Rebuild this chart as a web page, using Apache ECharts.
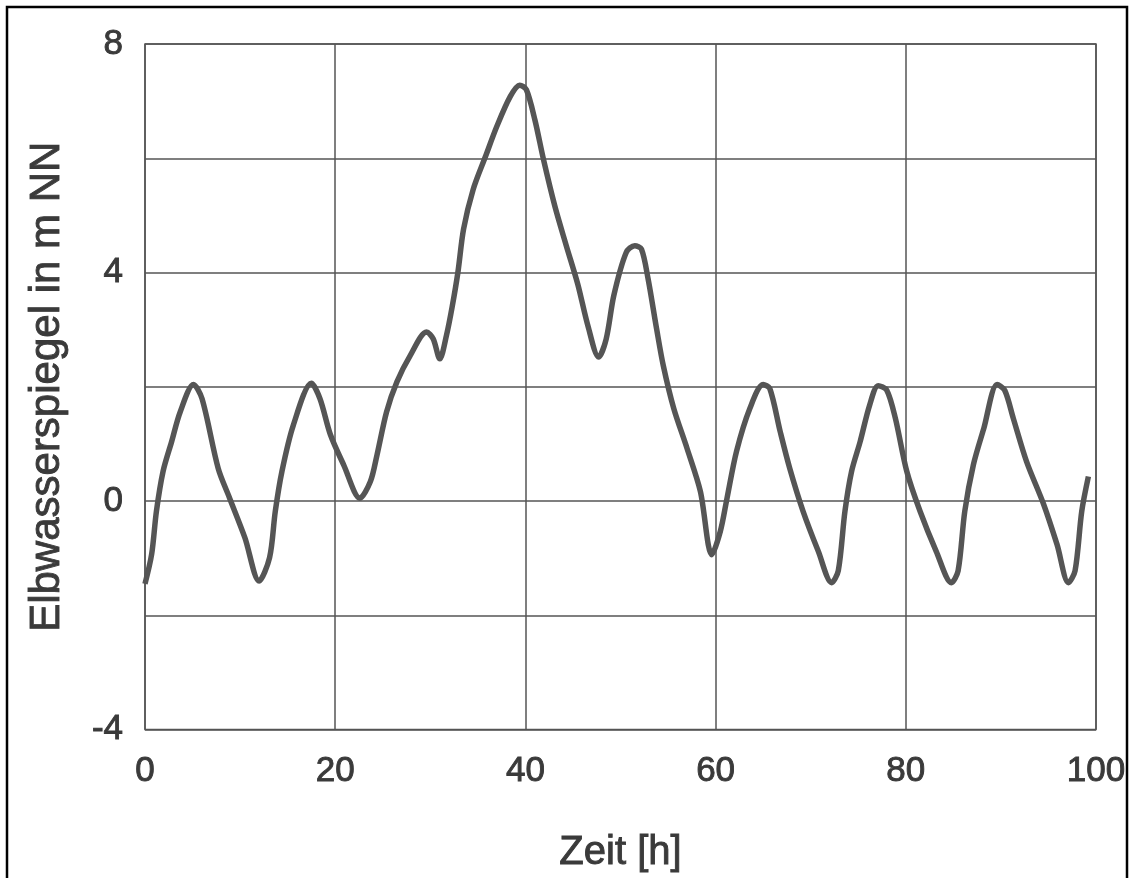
<!DOCTYPE html>
<html>
<head>
<meta charset="utf-8">
<script src="https://cdn.jsdelivr.net/npm/echarts@6/dist/echarts.min.js"></script>
<style>
html,body{margin:0;padding:0;background:#fff;}
#c{width:1133px;height:878px;}
</style>
</head>
<body>
<div id="c"></div>
<script>
const hours = [0,0.7,1.2,1.9,2.8,3.7,5.1,6.0,7.7,8.9,
  10.5,12.0,13.1,13.7,14.4,15.6,17.5,18.4,19.5,20.9,
  22.6,23.7,24.4,25.4,26.5,27.9,29.6,30.3,31.0,31.7,
  32.3,32.9,33.5,34.5,35.8,37.0,38.4,39.4,40.1,41.0,
  41.9,43.1,44.3,45.5,46.6,47.7,48.5,49.3,50.6,51.5,
  52.2,52.9,53.8,54.5,55.6,57.0,58.4,59.6,60.5,61.2,
  62.2,63.6,65.0,65.7,66.8,67.8,69.2,70.8,72.2,72.9,
  73.6,74.3,75.2,76.2,77.1,78.0,78.9,80.1,81.5,83.2,
  84.8,85.5,86.2,87.1,88.2,89.6,90.4,91.3,92.7,94.5,
  95.9,97.1,97.8,98.5,99.2];
const waterLevel = [-1.45,-0.93,-0.18,0.52,1.04,1.56,2.04,1.79,0.57,0.05,
  -0.64,-1.40,-0.99,-0.18,0.52,1.33,2.06,1.79,1.16,0.63,
  0.05,0.34,0.81,1.56,2.09,2.55,2.96,2.84,2.49,2.90,
  3.4,4.0,4.76,5.45,6.03,6.56,7.08,7.28,7.2,6.67,
  5.98,5.16,4.47,3.8,3.05,2.52,2.84,3.6,4.35,4.47,
  4.41,3.89,3.01,2.37,1.62,0.92,0.17,-0.94,-0.53,0.05,
  0.87,1.62,2.04,1.97,1.21,0.57,-0.18,-0.88,-1.43,-1.22,
  -0.18,0.52,1.04,1.68,2.02,1.94,1.45,0.52,-0.18,-0.88,
  -1.43,-1.22,-0.18,0.63,1.27,2.04,1.94,1.45,0.69,-0.06,
  -0.76,-1.43,-1.22,-0.18,0.43];
const yLabeled = [8, 4, 0, -4];
const xTitle = 'Zeit [h]';
const yTitle = 'Elbwasserspiegel in m NN';

const chart = echarts.init(document.getElementById('c'), null, {renderer:'canvas'});
const font = '"Liberation Sans", Arial, Helvetica, sans-serif';
const textColor = '#3a3a3a';
const gridColor = '#555';
const heavy = {textBorderColor:textColor, textBorderWidth:0.9};
chart.setOption({
  animation:false,
  backgroundColor:'#fff',
  graphic:[{type:'rect', shape:{x:7,y:7,width:1120,height:900}, style:{fill:null, stroke:'#000', lineWidth:2.5}, silent:true}],
  grid:{left:145, right:37, top:44, bottom:145, show:true, borderColor:gridColor, borderWidth:1.5, backgroundColor:'transparent'},
  xAxis:{type:'value', min:0, max:100, interval:20,
    name:xTitle, nameLocation:'middle', nameGap:103,
    nameTextStyle:Object.assign({fontFamily:font, fontSize:40, color:textColor}, heavy),
    axisLine:{show:false}, axisTick:{show:false},
    axisLabel:Object.assign({fontFamily:font, fontSize:35, color:textColor, margin:24}, heavy),
    splitLine:{show:true, lineStyle:{color:gridColor, width:1.5}}
  },
  yAxis:{type:'value', min:-4, max:8, interval:2,
    name:yTitle, nameLocation:'middle', nameGap:77, nameRotate:90,
    nameTextStyle:Object.assign({fontFamily:font, fontSize:42, color:textColor}, heavy),
    axisLine:{show:false}, axisTick:{show:false},
    axisLabel:Object.assign({fontFamily:font, fontSize:35, color:textColor, margin:22,
      formatter:function(v){ return yLabeled.indexOf(v) >= 0 ? String(v) : ''; }}, heavy),
    splitLine:{show:true, lineStyle:{color:gridColor, width:1.5}}
  },
  series:[{type:'line', data:hours.map((h,i)=>[h, waterLevel[i]]), smooth:0.3, showSymbol:false,
    lineStyle:{color:'#555', width:5.5}, z:3}]
});
</script>
</body>
</html>
